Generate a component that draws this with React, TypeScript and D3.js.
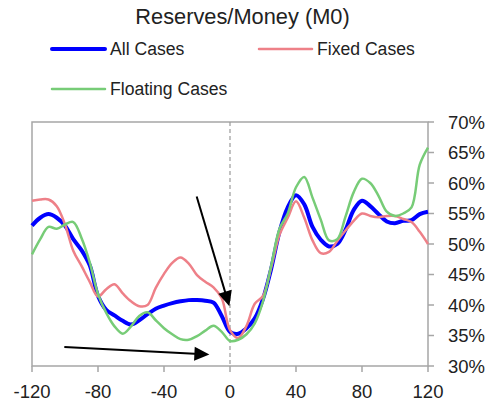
import React from "react";
import * as d3 from "d3";

const months = d3.range(-120, 121, 5);
const allCases = [53.0, 54.3, 54.9, 54.3, 53.0, 50.8, 49.0, 46.5, 41.5, 39.2, 38.3, 37.4, 36.8, 37.5, 38.5, 39.4, 39.9, 40.3, 40.6, 40.8, 40.8, 40.7, 40.4, 38.2, 35.6, 35.3, 36.2, 37.8, 41.0, 46.0, 52.0, 56.0, 58.0, 56.5, 52.8, 50.7, 49.6, 50.0, 52.3, 55.6, 57.1, 56.2, 54.9, 53.7, 53.4, 53.8, 53.9, 54.9, 55.3];
const fixedCases = [57.1, 57.3, 57.3, 56.2, 53.2, 48.9, 46.4, 43.8, 41.4, 42.6, 43.4, 41.9, 40.6, 39.8, 40.0, 42.8, 45.1, 46.9, 47.8, 46.8, 44.9, 43.8, 42.9, 41.1, 35.9, 34.6, 36.6, 40.2, 41.5, 46.2, 51.5, 54.3, 57.0, 54.3, 50.6, 48.5, 48.7, 50.5, 52.2, 53.8, 55.0, 54.6, 54.4, 54.6, 54.6, 54.1, 53.6, 52.0, 50.0];
const floatingCases = [48.3, 50.8, 52.8, 52.5, 53.2, 53.6, 51.0, 47.0, 41.8, 38.7, 36.5, 35.3, 36.5, 38.2, 38.8, 37.5, 36.2, 35.2, 34.4, 34.3, 34.9, 35.8, 36.6, 35.6, 34.1, 34.3, 35.2, 37.0, 40.6, 46.5, 52.5, 55.0, 59.3, 61.0, 57.6, 54.0, 50.6, 50.8, 54.5, 58.5, 60.7, 60.0, 57.9, 55.3, 54.6, 55.0, 56.0, 63.0, 65.8];

const xTicks = [-120, -80, -40, 0, 40, 80, 120];
const yTicks = [30, 35, 40, 45, 50, 55, 60, 65, 70];

const seriesNames = ["All Cases", "Fixed Cases", "Floating Cases"];
const seriesColors = ["#0000FF", "#EE8088", "#77CC77"];
const seriesWidths = [4, 2.5, 2.5];

// arrows in data coordinates
const arrowStarts = [[-20.2, 57.8], [-100.4, 33.1]];
const arrowTips = [[-0.4, 39.8], [-12.5, 31.9]];

const FONT = "'Liberation Sans', Arial, sans-serif";

export default function App() {
  const W = 491, H = 410;
  const left = 32, right = 428, top = 122, bottom = 366;
  const x = d3.scaleLinear().domain([-120, 120]).range([left, right]);
  const y = d3.scaleLinear().domain([30, 70]).range([bottom, top]);
  const data = [allCases, fixedCases, floatingCases];
  const line = d3
    .line<number>()
    .x((_, i) => x(months[i]))
    .y((d) => y(d))
    .curve(d3.curveCatmullRom.alpha(0.5));

  const arrowHead = (x1: number, y1: number, x2: number, y2: number) => {
    const ang = Math.atan2(y2 - y1, x2 - x1);
    const len = 15, half = 7;
    const bx = x2 - len * Math.cos(ang), by = y2 - len * Math.sin(ang);
    const px = -Math.sin(ang) * half, py = Math.cos(ang) * half;
    return `M${x2},${y2}L${bx + px},${by + py}L${bx - px},${by - py}Z`;
  };

  return (
    <svg width={W} height={H} style={{ position: "absolute", left: 0, top: 0, background: "#fff" }}>
      <text x={242.5} y={24} textAnchor="middle" fontFamily={FONT} fontSize={21.8} fill="#222">
        Reserves/Money (M0)
      </text>
      {[
        { i: 0, lx: 52, ly: 49 },
        { i: 1, lx: 259, ly: 49 },
        { i: 2, lx: 52, ly: 89 },
      ].map(({ i, lx, ly }) => (
        <g key={i}>
          <line x1={lx} x2={lx + 53} y1={ly} y2={ly} stroke={seriesColors[i]} strokeWidth={seriesWidths[i]} strokeLinecap="round" />
          <text x={lx + 58} y={ly + 6} fontFamily={FONT} fontSize={17.6} fill="#222">
            {seriesNames[i]}
          </text>
        </g>
      ))}
      <rect x={left} y={top} width={right - left} height={bottom - top} fill="none" stroke="#A6A6A6" strokeWidth={1.5} />
      {xTicks.map((t) => (
        <g key={t}>
          <line x1={x(t)} x2={x(t)} y1={bottom} y2={bottom + 6} stroke="#A6A6A6" strokeWidth={1.5} />
          <text x={x(t)} y={398} textAnchor="middle" fontFamily={FONT} fontSize={18.5} fill="#222">
            {t}
          </text>
        </g>
      ))}
      {yTicks.map((t) => (
        <g key={t}>
          <line x1={right} x2={right + 6} y1={y(t)} y2={y(t)} stroke="#A6A6A6" strokeWidth={1.5} />
          <text x={448} y={y(t)} dy="0.36em" fontFamily={FONT} fontSize={18.5} fill="#222">
            {t}%
          </text>
        </g>
      ))}
      <line x1={x(0)} x2={x(0)} y1={top} y2={bottom} stroke="#999" strokeWidth={1.2} strokeDasharray="4,3" />
      {data.map((d, i) => (
        <path key={i} d={line(d) || ""} fill="none" stroke={seriesColors[i]} strokeWidth={seriesWidths[i]} strokeLinejoin="round" />
      ))}
      {arrowStarts.map((s, i) => {
        const x1 = x(s[0]), y1 = y(s[1]);
        const x2 = x(arrowTips[i][0]), y2 = y(arrowTips[i][1]);
        const ang = Math.atan2(y2 - y1, x2 - x1);
        return (
          <g key={i}>
            <line x1={x1} y1={y1} x2={x2 - 10 * Math.cos(ang)} y2={y2 - 10 * Math.sin(ang)} stroke="#000" strokeWidth={2} />
            <path d={arrowHead(x1, y1, x2, y2)} fill="#000" />
          </g>
        );
      })}
    </svg>
  );
}
